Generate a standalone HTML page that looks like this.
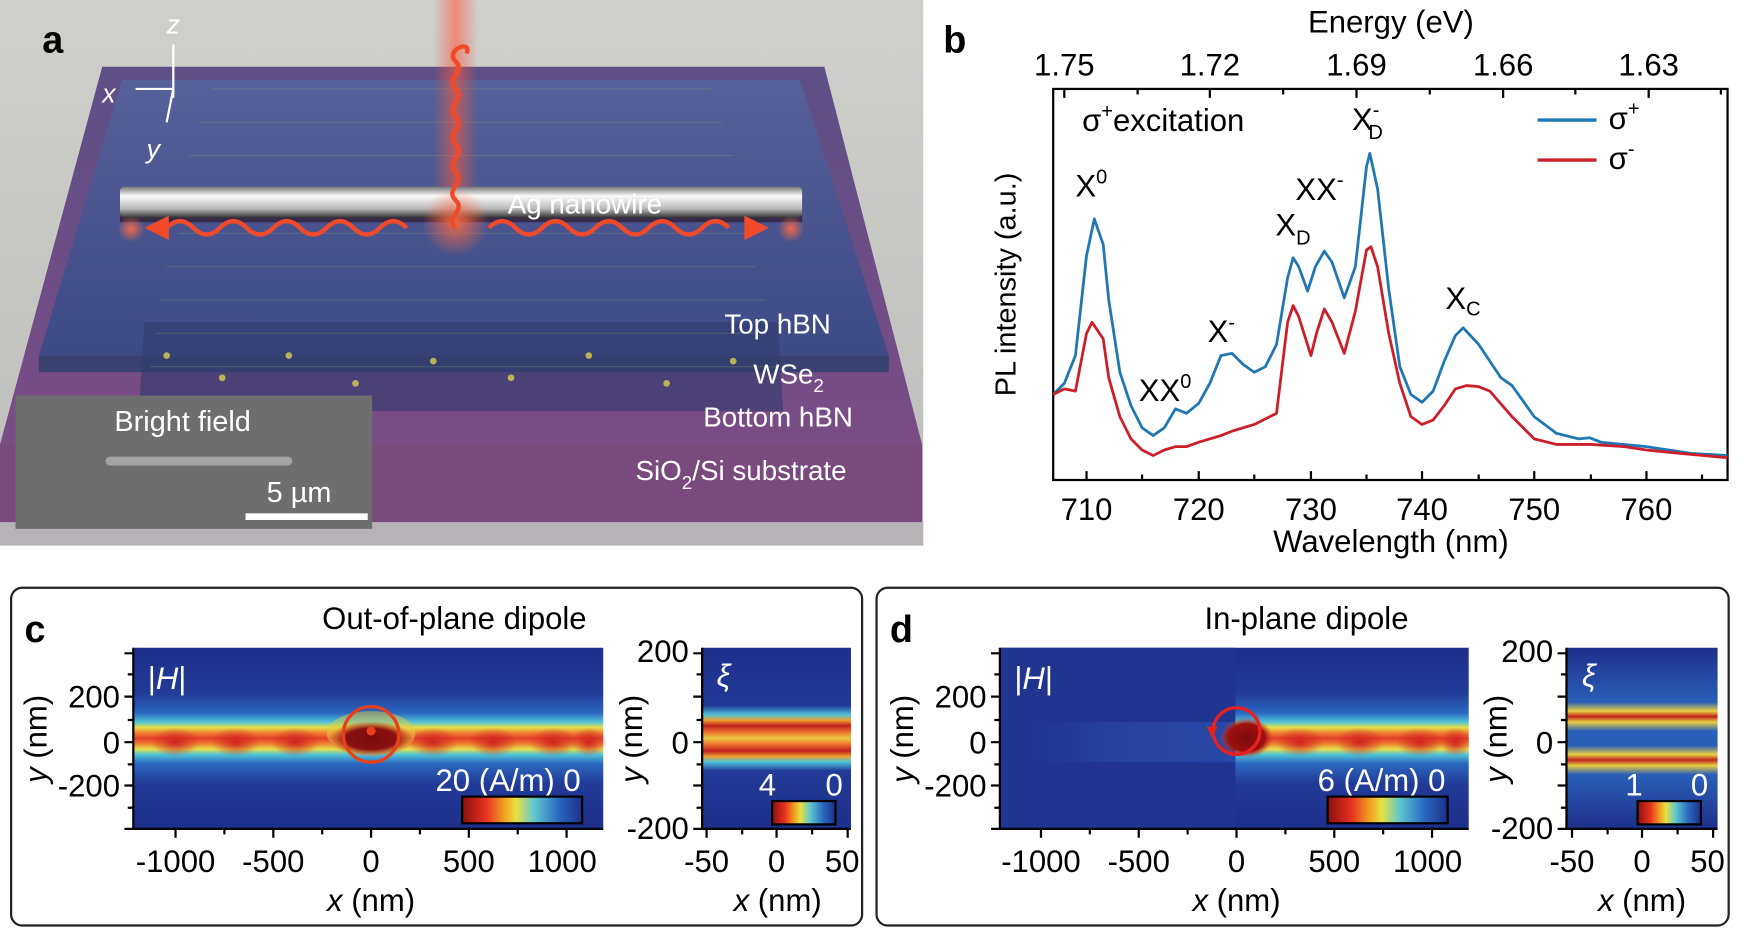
<!DOCTYPE html>
<html><head><meta charset="utf-8"><style>
html,body{margin:0;padding:0;background:#fff;}
svg{display:block;font-family:"Liberation Sans",sans-serif;}
</style></head><body>
<svg width="1742" height="940" viewBox="0 0 1568 846" xmlns="http://www.w3.org/2000/svg">
<defs>
<linearGradient id="bgA" x1="0" y1="0" x2="0" y2="1"><stop offset="0" stop-color="#cfcfcc"/><stop offset="1" stop-color="#bdbdbb"/></linearGradient>
<linearGradient id="slab" x1="0" y1="0" x2="0" y2="1"><stop offset="0" stop-color="#5d4f86"/><stop offset="1" stop-color="#7b4c86"/></linearGradient>
<linearGradient id="hbn" x1="0" y1="0" x2="0" y2="1"><stop offset="0" stop-color="#56609a"/><stop offset="1" stop-color="#3e4a86"/></linearGradient>
<linearGradient id="wire" x1="0" y1="0" x2="0" y2="1"><stop offset="0" stop-color="#777"/><stop offset="0.3" stop-color="#fafafa"/><stop offset="0.7" stop-color="#bbb"/><stop offset="1" stop-color="#333"/></linearGradient>
<radialGradient id="glow"><stop offset="0" stop-color="#ff6a40" stop-opacity="0.9"/><stop offset="1" stop-color="#ff6a40" stop-opacity="0"/></radialGradient>
<linearGradient id="beam" x1="0" y1="0" x2="1" y2="0"><stop offset="0" stop-color="#ff5a3a" stop-opacity="0"/><stop offset="0.5" stop-color="#ff5a3a" stop-opacity="0.6"/><stop offset="1" stop-color="#ff5a3a" stop-opacity="0"/></linearGradient>
<linearGradient id="bandC" x1="0" y1="0" x2="0" y2="1">
<stop offset="0" stop-color="#1d2f8a"/><stop offset="0.25" stop-color="#213b98"/><stop offset="0.36" stop-color="#2b67c0"/><stop offset="0.41" stop-color="#4fc3d8"/><stop offset="0.44" stop-color="#e6e04a"/><stop offset="0.47" stop-color="#f08030"/><stop offset="0.5" stop-color="#e2402a"/><stop offset="0.53" stop-color="#f08030"/><stop offset="0.56" stop-color="#e6e04a"/><stop offset="0.59" stop-color="#4fc3d8"/><stop offset="0.64" stop-color="#2b67c0"/><stop offset="0.75" stop-color="#213b98"/><stop offset="1" stop-color="#1d2f8a"/></linearGradient>
<linearGradient id="sideC" x1="0" y1="0" x2="0" y2="1">
<stop offset="0" stop-color="#1d2f8a"/><stop offset="0.32" stop-color="#213b98"/><stop offset="0.37" stop-color="#4fc3d8"/><stop offset="0.4" stop-color="#f0a030"/><stop offset="0.43" stop-color="#c0201e"/><stop offset="0.47" stop-color="#f07a30"/><stop offset="0.5" stop-color="#e8c840"/><stop offset="0.53" stop-color="#f07a30"/><stop offset="0.57" stop-color="#c0201e"/><stop offset="0.6" stop-color="#f0a030"/><stop offset="0.63" stop-color="#4fc3d8"/><stop offset="0.68" stop-color="#213b98"/><stop offset="1" stop-color="#1d2f8a"/></linearGradient>
<linearGradient id="sideD" x1="0" y1="0" x2="0" y2="1">
<stop offset="0" stop-color="#1d2f8a"/><stop offset="0.3" stop-color="#2a5fb8"/><stop offset="0.35" stop-color="#e8d040"/><stop offset="0.38" stop-color="#c0201e"/><stop offset="0.41" stop-color="#e8d040"/><stop offset="0.46" stop-color="#2a5fb8"/><stop offset="0.54" stop-color="#2a5fb8"/><stop offset="0.59" stop-color="#e8d040"/><stop offset="0.62" stop-color="#c0201e"/><stop offset="0.65" stop-color="#e8d040"/><stop offset="0.7" stop-color="#2a5fb8"/><stop offset="1" stop-color="#1d2f8a"/></linearGradient>
<linearGradient id="cbar" x1="0" y1="0" x2="1" y2="0"><stop offset="0" stop-color="#8a1010"/><stop offset="0.2" stop-color="#e83020"/><stop offset="0.35" stop-color="#f0a020"/><stop offset="0.45" stop-color="#e8e040"/><stop offset="0.6" stop-color="#60c8d0"/><stop offset="0.8" stop-color="#2a6ac0"/><stop offset="1" stop-color="#1d2f8a"/></linearGradient>
<radialGradient id="bead"><stop offset="0" stop-color="#d02420"/><stop offset="1" stop-color="#d02420" stop-opacity="0"/></radialGradient>
<radialGradient id="hot"><stop offset="0" stop-color="#7a0a0a"/><stop offset="0.6" stop-color="#8a1010"/><stop offset="1" stop-color="#c02020" stop-opacity="0"/></radialGradient>
<linearGradient id="fadeL" x1="0" y1="0" x2="1" y2="0"><stop offset="0" stop-color="#1d2f8a" stop-opacity="0.2"/><stop offset="0.45" stop-color="#2a4aa8" stop-opacity="0.6"/><stop offset="1" stop-color="#2a4aa8" stop-opacity="0.9"/></linearGradient>
<radialGradient id="hot2"><stop offset="0" stop-color="#7a0a0a"/><stop offset="0.7" stop-color="#a01010"/><stop offset="1" stop-color="#e04020" stop-opacity="0"/></radialGradient>
</defs>

<!-- Panel a -->
<rect x="0" y="0" width="831" height="491" fill="url(#bgA)"/>
<polygon points="92,60 742,60 830,400 0,400" fill="url(#slab)"/>
<polygon points="0,400 830,400 830,470 0,470" fill="#7a4a7e"/>
<rect x="0" y="470" width="831" height="21" fill="#b6b2b6"/>
<polygon points="110,72 720,72 800,320 35,320" fill="url(#hbn)"/>
<polygon points="35,320 800,320 800,335 35,335" fill="#3a4170"/>
<polygon points="130,290 700,290 705,370 125,370" fill="#2f3a6c" opacity="0.6"/>
<g opacity="0.25" stroke="#8fae6a" stroke-width="1">
<path d="M190,80 L640,80 M180,110 L650,110 M170,140 L660,140 M160,210 L670,210 M150,240 L680,240 M145,270 L690,270 M140,300 L690,300 M135,330 L700,330"/>
</g>
<g fill="#d8d050" opacity="0.8">
<circle cx="150" cy="320" r="3"/><circle cx="200" cy="340" r="3"/><circle cx="260" cy="320" r="3"/><circle cx="320" cy="345" r="3"/><circle cx="390" cy="325" r="3"/><circle cx="460" cy="340" r="3"/><circle cx="530" cy="320" r="3"/><circle cx="600" cy="345" r="3"/><circle cx="660" cy="325" r="3"/>
</g>
<rect x="390" y="0" width="40" height="200" fill="url(#beam)"/>
<path d="M108,200 L722,200 L722,192 L108,192Z" fill="#200" opacity="0.5"/>
<rect x="108" y="168" width="614" height="28" rx="4" fill="url(#wire)"/>
<circle cx="410" cy="200" r="30" fill="url(#glow)"/>
<circle cx="118" cy="206" r="12" fill="url(#glow)"/><circle cx="712" cy="206" r="12" fill="url(#glow)"/>
<g fill="none" stroke="#f04a2a" stroke-width="4">
<path d="M410,205 C400,195 420,190 410,180 C400,170 420,165 410,155 C400,145 420,140 410,130 C400,120 420,115 410,105 C400,95 420,90 410,80 C400,70 420,65 410,55 C400,45 425,35 420,48"/>
<path d="M150,205 q12,-12 24,0 t24,0 t24,0 t24,0 t24,0 t24,0 t24,0 t24,0 t24,0"/>
<path d="M440,205 q12,-12 24,0 t24,0 t24,0 t24,0 t24,0 t24,0 t24,0 t24,0 t24,0"/>
</g>
<polygon points="130,205 152,194 152,216" fill="#f04a2a"/><polygon points="692,205 670,194 670,216" fill="#f04a2a"/>
<text x="457" y="192" font-size="25" fill="#fff">Ag nanowire</text>
<text x="652" y="300" font-size="25" fill="#fff">Top hBN</text>
<text x="678" y="345" font-size="25" fill="#fff">WSe<tspan font-size="17" dy="8">2</tspan></text>
<text x="633" y="384" font-size="25" fill="#fff">Bottom hBN</text>
<text x="572" y="432" font-size="25" fill="#fff">SiO<tspan font-size="17" dy="8">2</tspan><tspan dy="-8">/Si substrate</tspan></text>
<rect x="14" y="356" width="321" height="120" fill="#6e6e6e"/>
<rect x="95" y="411" width="168" height="8" rx="4" fill="#a4a4a4"/>
<text x="103" y="388" font-size="26" fill="#fff">Bright field</text>
<text x="240" y="452" font-size="26" fill="#fff">5 µm</text>
<rect x="221" y="462" width="110" height="6" fill="#fff"/>
<text x="38" y="47" font-size="34" font-weight="bold" fill="#000">a</text>
<g stroke="#fff" stroke-width="2" fill="#fff">
<line x1="156" y1="88" x2="156" y2="40"/><line x1="156" y1="80" x2="122" y2="80"/><line x1="156" y1="80" x2="150" y2="110"/>
</g>
<text x="150" y="30" font-size="24" font-style="italic" fill="#fff">z</text>
<text x="92" y="92" font-size="24" font-style="italic" fill="#fff">x</text>
<text x="132" y="142" font-size="24" font-style="italic" fill="#fff">y</text>

<!-- Panel b -->
<text x="849" y="47" font-size="34" font-weight="bold">b</text>
<text x="1252" y="29" font-size="28" text-anchor="middle">Energy (eV)</text>
<g font-size="28" text-anchor="middle">
<text x="958" y="68">1.75</text><text x="1089" y="68">1.72</text><text x="1221" y="68">1.69</text><text x="1353" y="68">1.66</text><text x="1484" y="68">1.63</text>
<text x="978" y="468">710</text><text x="1079" y="468">720</text><text x="1180" y="468">730</text><text x="1280" y="468">740</text><text x="1381" y="468">750</text><text x="1482" y="468">760</text>
</g>
<text x="1252" y="497" font-size="28" text-anchor="middle">Wavelength (nm)</text>
<text transform="translate(914,256) rotate(-90)" font-size="26" text-anchor="middle">PL intensity (a.u.)</text>
<rect x="948" y="80" width="607" height="352" fill="none" stroke="#000" stroke-width="2"/>
<g stroke="#000" stroke-width="2" fill="none">
<path d="M978,432v-8M1079,432v-8M1180,432v-8M1280,432v-8M1381,432v-8M1482,432v-8M1028,432v-5M1129,432v-5M1230,432v-5M1331,432v-5M1432,432v-5M1532,432v-5"/>
<path d="M958,80v8M1089,80v8M1221,80v8M1353,80v8M1484,80v8M1024,80v5M1155,80v5M1287,80v5M1418,80v5M1549,80v5"/>
</g>
<polyline fill="none" stroke="#1f77b4" stroke-width="2.5" stroke-linejoin="round" points="948,355 958,345 968,320 978,230 985,197 993,220 998,270 1008,335 1018,365 1028,385 1038,392 1048,385 1058,368 1068,372 1079,363 1089,345 1099,320 1109,318 1119,328 1129,335 1139,330 1149,310 1159,250 1164,232 1169,240 1177,262 1184,240 1192,226 1199,236 1210,268 1220,240 1230,150 1233,138 1240,170 1250,260 1260,330 1270,355 1280,362 1290,352 1300,325 1310,302 1317,295 1331,310 1351,340 1361,347 1381,375 1401,390 1421,395 1431,394 1441,398 1462,400 1482,402 1502,405 1522,408 1555,410"/>
<polyline fill="none" stroke="#cc1f2a" stroke-width="2.5" stroke-linejoin="round" points="948,355 958,350 968,352 978,300 983,290 993,305 998,340 1008,375 1018,395 1028,405 1038,410 1048,405 1058,402 1068,402 1079,398 1099,392 1109,388 1129,382 1149,372 1159,290 1164,275 1169,285 1180,320 1185,300 1192,278 1199,290 1210,318 1220,280 1230,225 1234,222 1240,240 1250,300 1260,345 1270,375 1280,382 1290,378 1300,365 1310,350 1320,347 1331,348 1341,352 1361,375 1381,395 1401,400 1432,400 1462,402 1482,405 1512,408 1555,412"/>
<g font-size="28">
<text x="974" y="118">σ<tspan font-size="18" dy="-12">+</tspan><tspan dy="12">excitation</tspan></text>
<text x="968" y="177">X<tspan font-size="18" dy="-12">0</tspan></text>
<text x="1025" y="361">XX<tspan font-size="18" dy="-12">0</tspan></text>
<text x="1087" y="308">X<tspan font-size="18" dy="-12">-</tspan></text>
<text x="1148" y="212">X<tspan font-size="18" dy="8">D</tspan></text>
<text x="1166" y="180">XX<tspan font-size="18" dy="-12">-</tspan></text>
<text x="1217" y="117">X<tspan font-size="18" dy="-12">-</tspan><tspan font-size="18" dx="-10" dy="20">D</tspan></text>
<text x="1301" y="278">X<tspan font-size="18" dy="6">C</tspan></text>
<text x="1448" y="116">σ<tspan font-size="18" dy="-12">+</tspan></text>
<text x="1448" y="152">σ<tspan font-size="18" dy="-12">-</tspan></text>
</g>
<line x1="1384" y1="108" x2="1437" y2="108" stroke="#1f77b4" stroke-width="3"/>
<line x1="1384" y1="144" x2="1437" y2="144" stroke="#cc1f2a" stroke-width="3"/>

<!-- Panel c -->
<rect x="10" y="529" width="766" height="304" rx="10" fill="none" stroke="#222" stroke-width="2"/>
<text x="22" y="578" font-size="34" font-weight="bold">c</text>
<text x="409" y="566" font-size="28" text-anchor="middle">Out-of-plane dipole</text>
<rect x="120" y="583" width="423" height="163" fill="url(#bandC)"/>
<g fill="url(#bead)">
<ellipse cx="158" cy="668" rx="22" ry="13"/><ellipse cx="212" cy="668" rx="22" ry="13"/><ellipse cx="266" cy="668" rx="22" ry="13"/><ellipse cx="390" cy="668" rx="22" ry="13"/><ellipse cx="444" cy="668" rx="22" ry="13"/><ellipse cx="498" cy="668" rx="22" ry="13"/><ellipse cx="530" cy="668" rx="16" ry="13"/>
</g>
<ellipse cx="334" cy="660" rx="40" ry="20" fill="#e8d040" opacity="0.5"/>
<ellipse cx="334" cy="665" rx="38" ry="16" fill="url(#hot)"/>
<circle cx="334" cy="661" r="25" fill="none" stroke="#e8401a" stroke-width="3"/>
<circle cx="334" cy="658" r="4" fill="#e8401a"/>
<text x="133" y="620" font-size="28" fill="#fff">|<tspan font-style="italic">H</tspan>|</text>
<text x="392" y="712" font-size="28" fill="#fff">20 (A/m) 0</text>
<rect x="416" y="717" width="108" height="24" fill="url(#cbar)" stroke="#000" stroke-width="2"/>
<g stroke="#000" stroke-width="2" fill="none"><path d="M120,583v163h423M120,588h-8M120,627h-8M120,668h-8M120,707h-8M120,746h-8M120,607h-5M120,648h-5M120,688h-5M120,727h-5M158,746v8M246,746v8M334,746v8M422,746v8M510,746v8M202,746v5M290,746v5M378,746v5M466,746v5"/></g>
<g font-size="28" text-anchor="end"><text x="108" y="637">200</text><text x="108" y="678">0</text><text x="108" y="717">-200</text></g>
<text transform="translate(42,665) rotate(-90)" font-size="28" text-anchor="middle"><tspan font-style="italic">y</tspan> (nm)</text>
<g font-size="28" text-anchor="middle"><text x="158" y="785">-1000</text><text x="246" y="785">-500</text><text x="334" y="785">0</text><text x="422" y="785">500</text><text x="506" y="785">1000</text></g>
<text x="334" y="820" font-size="28" text-anchor="middle"><tspan font-style="italic">x</tspan> (nm)</text>
<rect x="632" y="583" width="134" height="163" fill="url(#sideC)"/>
<text x="645" y="618" font-size="28" fill="#fff" font-style="italic">ξ</text>
<text x="683" y="716" font-size="28" fill="#fff">4</text><text x="743" y="716" font-size="28" fill="#fff">0</text>
<rect x="695" y="721" width="57" height="21" fill="url(#cbar)" stroke="#000" stroke-width="2"/>
<g stroke="#000" stroke-width="2" fill="none"><path d="M632,583v163h134M632,588h-8M632,627h-8M632,668h-8M632,707h-8M632,746h-8M632,607h-5M632,648h-5M632,688h-5M632,727h-5M636,746v8M699,746v8M763,746v8M668,746v5M731,746v5"/></g>
<g font-size="28" text-anchor="end"><text x="620" y="596">200</text><text x="620" y="678">0</text><text x="620" y="755">-200</text></g>
<text transform="translate(578,665) rotate(-90)" font-size="28" text-anchor="middle"><tspan font-style="italic">y</tspan> (nm)</text>
<g font-size="28" text-anchor="middle"><text x="636" y="785">-50</text><text x="699" y="785">0</text><text x="758" y="785">50</text></g>
<text x="700" y="820" font-size="28" text-anchor="middle"><tspan font-style="italic">x</tspan> (nm)</text>

<!-- Panel d -->
<rect x="789" y="529" width="767" height="304" rx="10" fill="none" stroke="#222" stroke-width="2"/>
<text x="801" y="578" font-size="34" font-weight="bold">d</text>
<text x="1176" y="566" font-size="28" text-anchor="middle">In-plane dipole</text>
<rect x="900" y="583" width="422" height="163" fill="url(#bandC)"/>
<rect x="900" y="583" width="212" height="163" fill="#1f3590"/>
<rect x="900" y="650" width="212" height="36" fill="url(#fadeL)"/>
<g fill="url(#bead)">
<ellipse cx="1170" cy="668" rx="22" ry="13"/><ellipse cx="1224" cy="668" rx="22" ry="13"/><ellipse cx="1278" cy="668" rx="22" ry="13"/><ellipse cx="1310" cy="668" rx="14" ry="13"/>
</g>
<ellipse cx="1122" cy="664" rx="24" ry="18" fill="url(#hot2)"/>
<circle cx="1113" cy="658" r="21" fill="none" stroke="#e82020" stroke-width="3"/>
<polygon points="1086,654 1096,654 1091,664" fill="#e82020"/>
<text x="913" y="620" font-size="28" fill="#fff">|<tspan font-style="italic">H</tspan>|</text>
<text x="1186" y="712" font-size="28" fill="#fff">6 (A/m) 0</text>
<rect x="1195" y="717" width="108" height="24" fill="url(#cbar)" stroke="#000" stroke-width="2"/>
<g stroke="#000" stroke-width="2" fill="none"><path d="M900,583v163h422M900,588h-8M900,627h-8M900,668h-8M900,707h-8M900,746h-8M900,607h-5M900,648h-5M900,688h-5M900,727h-5M937,746v8M1025,746v8M1113,746v8M1201,746v8M1289,746v8M981,746v5M1069,746v5M1157,746v5M1245,746v5"/></g>
<g font-size="28" text-anchor="end"><text x="888" y="637">200</text><text x="888" y="678">0</text><text x="888" y="717">-200</text></g>
<text transform="translate(822,665) rotate(-90)" font-size="28" text-anchor="middle"><tspan font-style="italic">y</tspan> (nm)</text>
<g font-size="28" text-anchor="middle"><text x="937" y="785">-1000</text><text x="1025" y="785">-500</text><text x="1113" y="785">0</text><text x="1201" y="785">500</text><text x="1285" y="785">1000</text></g>
<text x="1113" y="820" font-size="28" text-anchor="middle"><tspan font-style="italic">x</tspan> (nm)</text>
<rect x="1410" y="583" width="136" height="163" fill="url(#sideD)"/>
<text x="1424" y="618" font-size="28" fill="#fff" font-style="italic">ξ</text>
<text x="1463" y="716" font-size="28" fill="#fff">1</text><text x="1522" y="716" font-size="28" fill="#fff">0</text>
<rect x="1474" y="721" width="57" height="21" fill="url(#cbar)" stroke="#000" stroke-width="2"/>
<g stroke="#000" stroke-width="2" fill="none"><path d="M1410,583v163h136M1410,588h-8M1410,627h-8M1410,668h-8M1410,707h-8M1410,746h-8M1410,607h-5M1410,648h-5M1410,688h-5M1410,727h-5M1415,746v8M1478,746v8M1542,746v8M1447,746v5M1510,746v5"/></g>
<g font-size="28" text-anchor="end"><text x="1398" y="596">200</text><text x="1398" y="678">0</text><text x="1398" y="755">-200</text></g>
<text transform="translate(1356,665) rotate(-90)" font-size="28" text-anchor="middle"><tspan font-style="italic">y</tspan> (nm)</text>
<g font-size="28" text-anchor="middle"><text x="1415" y="785">-50</text><text x="1478" y="785">0</text><text x="1537" y="785">50</text></g>
<text x="1478" y="820" font-size="28" text-anchor="middle"><tspan font-style="italic">x</tspan> (nm)</text>
</svg>
</body></html>
